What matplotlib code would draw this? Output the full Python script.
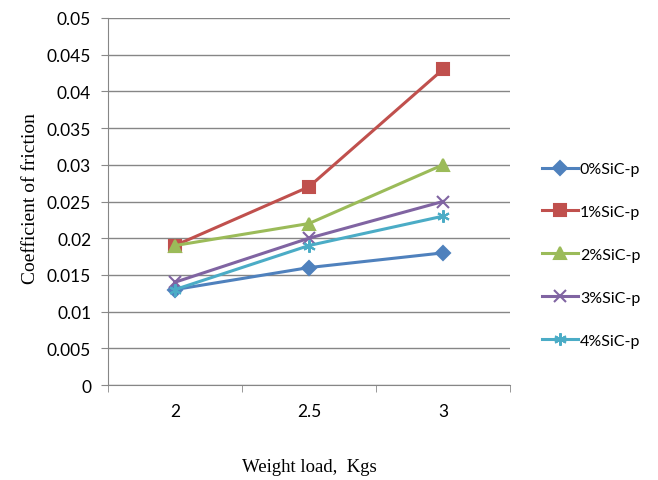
import matplotlib
matplotlib.use("Agg")
import matplotlib.pyplot as plt
import numpy as np

loads = ["2", "2.5", "3"]
series_names = ["0%SiC-p", "1%SiC-p", "2%SiC-p", "3%SiC-p", "4%SiC-p"]
cof_0 = [0.013, 0.016, 0.018]
cof_1 = [0.019, 0.027, 0.043]
cof_2 = [0.019, 0.022, 0.030]
cof_3 = [0.014, 0.020, 0.025]
cof_4 = [0.013, 0.019, 0.023]
yticks = [0, 0.005, 0.01, 0.015, 0.02, 0.025, 0.03, 0.035, 0.04, 0.045, 0.05]
ytick_labels = ["0", "0.005", "0.01", "0.015", "0.02", "0.025", "0.03",
                "0.035", "0.04", "0.045", "0.05"]

colors = ["#4F81BD", "#C0504D", "#9BBB59", "#8064A2", "#4BACC6"]
markers = ["D", "s", "^", "x", (6, 2, 0)]
msizes = [7, 8.5, 8, 9, 9]

tick_font = "Lato"
label_font = "Liberation Serif"


def main():
  fig = plt.figure(figsize=(6.58, 4.81), dpi=100)
  ax = fig.add_axes([0.164, 0.1975, 0.611, 0.763])

  x = np.arange(len(loads))
  data = [cof_0, cof_1, cof_2, cof_3, cof_4]
  for vals, name, c, m, ms in zip(data, series_names, colors, markers, msizes):
    ax.plot(x, vals, '-', color=c, lw=2.2, marker=m, markersize=ms,
            markeredgewidth=1.5, label=name, zorder=3)

  ax.set_xlim(-0.5, len(loads) - 0.5)
  ax.set_ylim(0, 0.05)

  ax.set_yticks(yticks)
  ax.set_yticklabels(ytick_labels, fontfamily=tick_font, fontsize=12.5)
  ax.set_xticks(x)
  ax.set_xticklabels(loads, fontfamily=tick_font, fontsize=12.5)
  ax.set_xticks(np.arange(-0.5, len(loads)), minor=True)
  ax.tick_params(axis='x', which='major', length=0, pad=13)
  ax.tick_params(axis='x', which='minor', length=5, color='#888888')
  ax.tick_params(axis='y', length=5, color='#888888', pad=7)

  ax.yaxis.grid(True, color='#868686', lw=1.0)
  ax.set_axisbelow(True)
  for s in ["top", "right"]:
    ax.spines[s].set_visible(False)
  for s in ["left", "bottom"]:
    ax.spines[s].set_color('#868686')

  ax.set_ylabel("Coefficient of friction", fontfamily=label_font, fontsize=14)
  ax.yaxis.set_label_coords(-0.172, 0.51)
  ax.set_xlabel("Weight load,  Kgs", fontfamily=label_font, fontsize=13.5)
  ax.xaxis.set_label_coords(0.5, -0.2)

  fig.legend(loc='center left', bbox_to_anchor=(0.811, 0.468), frameon=False,
             prop={'family': tick_font, 'size': 11.5}, handlelength=2.3,
             handletextpad=0.1, labelspacing=1.8, borderpad=0)

  fig.savefig("out.png", dpi=100)


if __name__ == '__main__':
  main()
